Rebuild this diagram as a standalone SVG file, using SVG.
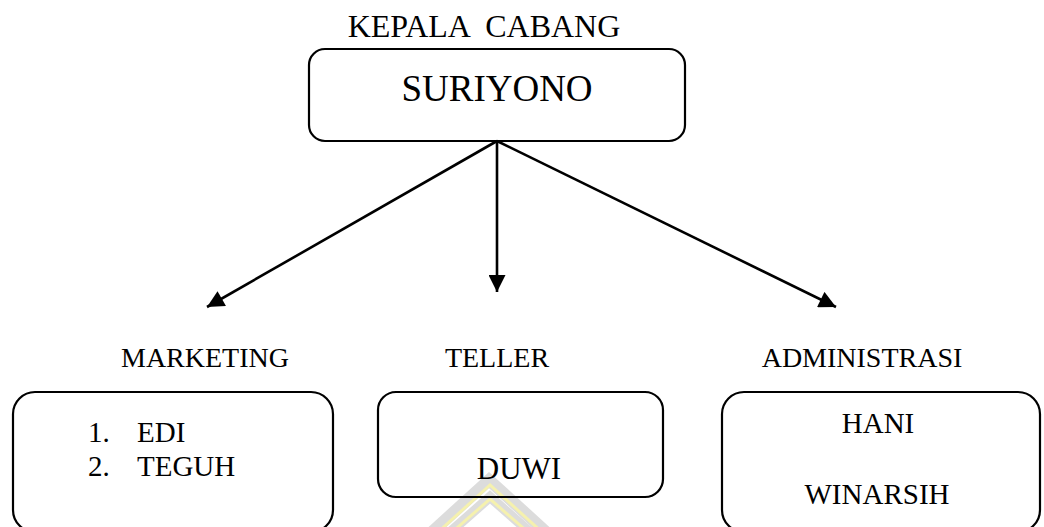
<svg xmlns="http://www.w3.org/2000/svg" width="1044" height="527" viewBox="0 0 1044 527">
<style>
.box{fill:none;stroke:#000;stroke-width:2.2}
.t{font-family:"Liberation Serif","Times New Roman",serif;fill:#000}
.lbl{font-size:28px;text-anchor:middle}
.in{font-size:29px}
.con{stroke:#000;stroke-width:2.6;fill:none}
</style>
<defs>
<marker id="arr" viewBox="0 0 10 10" refX="10" refY="5" markerUnits="userSpaceOnUse" markerWidth="18" markerHeight="17" orient="auto">
<path d="M0,0 L10,5 L0,10 Z" fill="#000"/>
</marker>
</defs>
<rect width="1044" height="527" fill="#fff"/>
<g id="watermark" opacity="0.8">
<polyline points="432,532 489,480 546,532" fill="none" stroke="#d4d4d4" stroke-width="12"/>
<polyline points="436,534 490,485 544,534" fill="none" stroke="#f3ee9a" stroke-width="3"/>
<polyline points="448,534 490,497 532,534" fill="none" stroke="#d4d4d4" stroke-width="10"/>
<polyline points="450,534 490,499 530,534" fill="none" stroke="#f3ee9a" stroke-width="3"/>
</g>
<g id="kepala">
<text class="t" x="484" y="37" style="font-size:32px;text-anchor:middle" xml:space="preserve">KEPALA  CABANG</text>
<rect class="box" x="309" y="49" width="376" height="92" rx="16"/>
<text class="t" x="497" y="101" style="font-size:37px;text-anchor:middle">SURIYONO</text>
</g>
<g id="connectors">
<line class="con" x1="497" y1="141" x2="207" y2="307" marker-end="url(#arr)"/>
<line class="con" x1="497" y1="141" x2="497" y2="292" marker-end="url(#arr)"/>
<line class="con" x1="497" y1="141" x2="836" y2="307" marker-end="url(#arr)"/>
</g>
<g id="marketing">
<text class="t lbl" x="205" y="367">MARKETING</text>
<rect class="box" x="13" y="392" width="320" height="140" rx="22"/>
<text class="t in" x="88" y="442">1.</text>
<text class="t in" x="137" y="442">EDI</text>
<text class="t in" x="88" y="476">2.</text>
<text class="t in" x="137" y="476">TEGUH</text>
</g>
<g id="teller">
<text class="t lbl" x="497" y="367">TELLER</text>
<rect class="box" x="378" y="392" width="285" height="105" rx="18"/>
<text class="t lbl" x="519" y="479" style="font-size:31px">DUWI</text>
</g>
<g id="administrasi">
<text class="t lbl" x="862" y="367">ADMINISTRASI</text>
<rect class="box" x="722" y="392" width="318" height="140" rx="22"/>
<text class="t lbl" x="878" y="433" style="font-size:29px">HANI</text>
<text class="t lbl" x="877" y="504" style="font-size:29px">WINARSIH</text>
</g>
</svg>
